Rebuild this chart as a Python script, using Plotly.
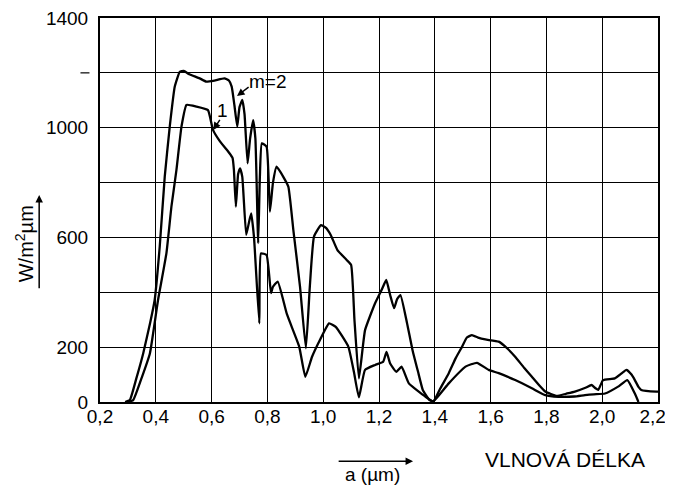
import plotly.graph_objects as go

# ---- data ----
upper_w = [0.29, 0.307, 0.33, 0.355, 0.38, 0.396, 0.414, 0.432, 0.45, 0.468, 0.486, 0.5, 0.52, 0.557,
           0.581, 0.61, 0.646, 0.662, 0.672, 0.682, 0.692, 0.70, 0.71, 0.718, 0.729, 0.738, 0.749,
           0.757, 0.767, 0.773, 0.78, 0.797, 0.809, 0.82, 0.833, 0.857, 0.875, 0.893, 0.917, 0.938,
           0.952, 0.967, 0.992, 1.01, 1.027, 1.051, 1.084, 1.10, 1.112, 1.128, 1.15, 1.186, 1.21,
           1.226, 1.24, 1.254, 1.265, 1.277, 1.30, 1.32, 1.34, 1.357, 1.38, 1.395, 1.42, 1.45,
           1.475, 1.498, 1.515, 1.533, 1.555, 1.581, 1.629, 1.66, 1.688, 1.72, 1.748, 1.775, 1.796,
           1.837, 1.87, 1.902, 1.94, 1.962, 1.976, 1.986, 2.003, 2.045, 2.07, 2.087, 2.105, 2.117,
           2.13, 2.14, 2.194, 2.2]
upper_v = [0, 7, 85, 178, 290, 372, 566, 821, 1004, 1150, 1204, 1207, 1195, 1180,
           1168, 1172, 1180, 1172, 1150, 1080, 1004, 1075, 1101, 1050, 870, 960, 1028,
           960, 579, 820, 943, 931, 694, 800, 858, 821, 785, 627, 420, 196,
           420, 603, 645, 635, 609, 554, 518, 500, 300, 86, 262, 360, 410,
           445, 390, 342, 375, 390, 290, 190, 110, 44, 8, 2, 50, 105,
           160, 202, 235, 244, 235, 228, 220, 195, 165, 125, 92, 60, 38,
           22, 30, 38, 52, 62, 50, 44, 80, 86, 105, 117, 100, 80,
           55, 44, 38, 38]

lower_w = [0.30, 0.319, 0.35, 0.379, 0.408, 0.438, 0.456, 0.474, 0.492, 0.51, 0.545, 0.587, 0.605,
           0.63, 0.664, 0.675, 0.68, 0.687, 0.695, 0.702, 0.71, 0.724, 0.735, 0.742, 0.752, 0.771,
           0.777, 0.797, 0.813, 0.82, 0.837, 0.87, 0.914, 0.936, 0.96, 0.99, 1.021, 1.045, 1.09,
           1.11, 1.128, 1.15, 1.186, 1.215, 1.227, 1.24, 1.262, 1.281, 1.307, 1.367, 1.394, 1.45,
           1.51, 1.551, 1.593, 1.629, 1.688, 1.748, 1.796, 1.843, 1.90, 1.938, 1.97, 2.01, 2.057,
           2.09, 2.117, 2.13]
lower_v = [0, 7, 90, 178, 372, 542, 712, 846, 1004, 1083, 1077, 1064, 992,
           950, 907, 890, 846, 712, 830, 852, 821, 609, 660, 688, 600, 287,
           542, 536, 397, 420, 439, 320, 202, 92, 165, 230, 287, 274, 202,
           110, 17, 117, 135, 147, 183, 140, 110, 129, 68, 19, 2, 68,
           129, 143, 117, 105, 80, 50, 25, 19, 20, 25, 28, 31, 56,
           80, 31, 0]

x_ticks = [0.2, 0.4, 0.6, 0.8, 1.0, 1.2, 1.4, 1.6, 1.8, 2.0, 2.2]
x_labels = ["0,2", "0,4", "0,6", "0,8", "1,0", "1,2", "1,4", "1,6", "1,8", "2,0", "2,2&nbsp;&nbsp;"]
y_ticks = [0, 200, 400, 600, 800, 1000, 1200, 1400]
y_labels = ["0", "200", "", "600", "", "1000", "", "1400"]

FONT = "Liberation Sans"
C = dict(xanchor="center", yanchor="middle", showarrow=False)
D = dict(xref="x domain", yref="y domain", **C)
DA = dict(xref="x domain", yref="y domain", axref="x domain", ayref="y domain")
ARROW = dict(text="", showarrow=True, arrowhead=2, arrowsize=1, arrowwidth=1.5,
             arrowcolor="black")

fig = go.Figure()
for w, v in ((upper_w, upper_v), (lower_w, lower_v)):
    fig.add_trace(go.Scatter(x=w, y=v, mode="lines",
                             line=dict(color="black", width=2.3, shape="spline", smoothing=0.4),
                             hoverinfo="skip", showlegend=False))

fig.update_layout(
    width=665, height=479,
    margin=dict(l=92, r=15, t=10, b=85),
    paper_bgcolor="white", plot_bgcolor="white",
    font=dict(family=FONT, color="black", size=19),
    xaxis=dict(range=[0.2, 2.2], tickvals=x_ticks, ticktext=x_labels, automargin=False,
               showgrid=True, gridcolor="black", gridwidth=1,
               showline=True, linecolor="black", linewidth=2, mirror=True,
               zeroline=False, ticks="", ticklabelstandoff=-4, ticklabeloverflow="allow",
               tickfont=dict(size=19, family=FONT)),
    yaxis=dict(range=[0, 1400], tickvals=y_ticks, ticktext=y_labels, automargin=False,
               showgrid=True, gridcolor="black", gridwidth=1,
               showline=True, linecolor="black", linewidth=2, mirror=True,
               zeroline=False, ticks="", ticklabelstandoff=6, ticklabeloverflow="allow",
               tickfont=dict(size=19, family=FONT)),
)

# short dashed mark at 1200 left of the axis
fig.add_shape(type="line", xref="x domain", yref="y", x0=-0.035, x1=-0.004, y0=1200, y1=1200,
              line=dict(color="black", width=1.2, dash="dash"))

# curve labels
fig.add_annotation(x=0.802, y=1167, text="m=2", font=dict(size=19), **C)
fig.add_annotation(x=0.691, y=1116, ax=0.738, ay=1152, axref="x", ayref="y", **ARROW)
fig.add_annotation(x=0.64, y=1062, text="1", font=dict(size=19), **C)
fig.add_annotation(x=0.606, y=992, ax=0.633, ay=1034, axref="x", ayref="y", **ARROW)

# y-axis title with arrow
fig.add_annotation(x=-0.136, y=0.411, text="W/m<sup>2</sup>µm", textangle=-90,
                   font=dict(size=20), **D)
fig.add_annotation(**DA, x=-0.109, y=0.539, ax=-0.109, ay=0.292, **ARROW)

# x-axis labels
fig.add_annotation(**DA, x=0.561, y=-0.154, ax=0.425, ay=-0.154, **ARROW)
fig.add_annotation(x=0.489, y=-0.19, text="a (µm)", font=dict(size=19), **D)
fig.add_annotation(x=0.833, y=-0.151, text="VLNOVÁ DÉLKA", font=dict(size=21), **D)

fig.write_html("out.html")
